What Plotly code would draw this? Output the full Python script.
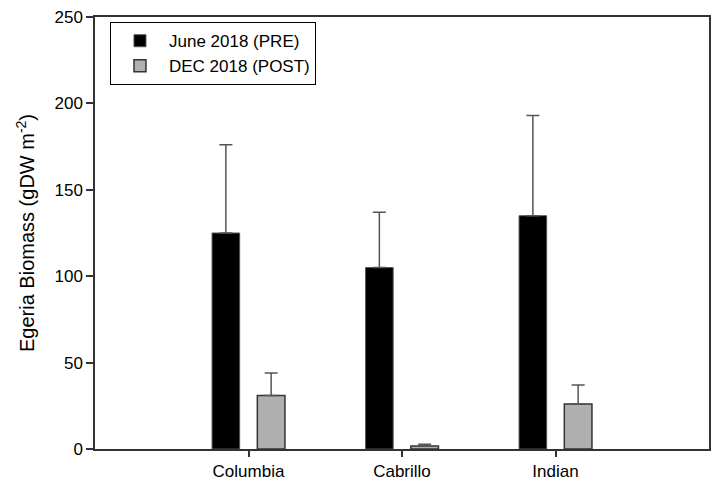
import plotly.graph_objects as go

sites = ["Columbia", "Cabrillo", "Indian"]
june_pre = [125, 105, 135]
june_err = [51, 32, 58]
dec_post = [31, 1.7, 26]
dec_err = [13, 1, 11]
y_ticks = [0, 50, 100, 150, 200, 250]

FONT = "Arial, Liberation Sans, sans-serif"

fig = go.Figure()
fig.add_trace(go.Bar(
    x=sites, y=june_pre, name="June 2018 (PRE)",
    marker=dict(color="#000000", line=dict(color="#555555", width=1)),
    error_y=dict(type="data", array=june_err, symmetric=False, arrayminus=[0, 0, 0],
                 color="#555555", thickness=1.5, width=6.5),
))
fig.add_trace(go.Bar(
    x=sites, y=dec_post, name="DEC 2018 (POST)",
    marker=dict(color="#b0b0b0", line=dict(color="#333333", width=1.5)),
    error_y=dict(type="data", array=dec_err, symmetric=False, arrayminus=[0, 0, 0],
                 color="#555555", thickness=1.5, width=6.5),
))

fig.update_layout(
    width=715, height=485,
    margin=dict(l=95, r=4, t=17, b=36),
    paper_bgcolor="white", plot_bgcolor="white",
    barmode="group", bargap=0.41, bargroupgap=0.39,
    font=dict(family=FONT, size=17, color="#000000"),
    showlegend=True,
    legend=dict(x=0.0244, y=0.988, xanchor="left", yanchor="top",
                bordercolor="#000000", borderwidth=1, bgcolor="white",
                font=dict(size=17), tracegroupgap=0, traceorder="normal",
                itemwidth=48),
    xaxis=dict(
        type="category", range=[-1, 3],
        showline=True, mirror=True, linecolor="#333333", linewidth=1.5,
        ticks="outside", ticklen=6, tickcolor="#333333", tickwidth=1.5,
        showgrid=False, zeroline=False, tickfont=dict(size=17),
    ),
    yaxis=dict(
        range=[0, 250], tickvals=y_ticks,
        showline=True, mirror=True, linecolor="#333333", linewidth=1.5,
        ticks="outside", ticklen=7, tickcolor="#333333", tickwidth=1.5,
        showgrid=False, zeroline=False, tickfont=dict(size=17),
        title=dict(text="Egeria Biomass (gDW m<sup>-2</sup>)", font=dict(size=20), standoff=14),
    ),
)

fig.write_html("out.html", config={"displayModeBar": False},
               post_script="document.body.style.margin='0px';document.body.style.overflow='hidden';")
